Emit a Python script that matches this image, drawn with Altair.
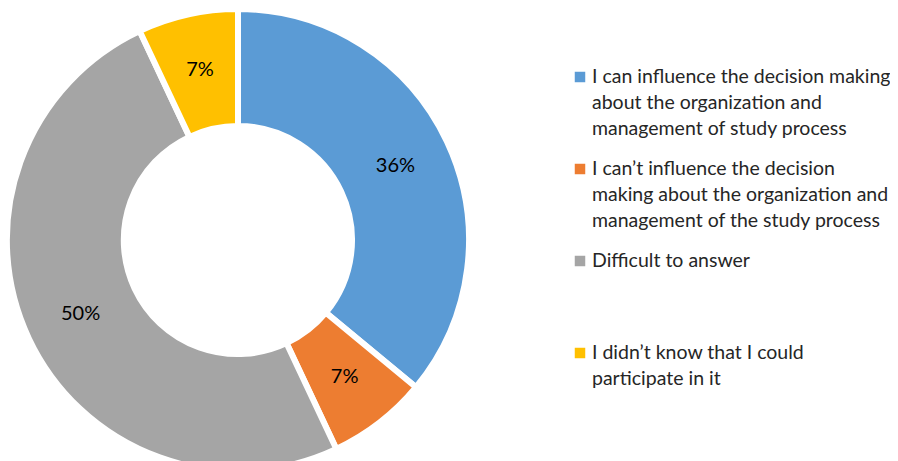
import altair as alt
import pandas as pd

categories = [
    "I can influence the decision making about the organization and management of study process",
    "I can't influence the decision making about the organization and management of the study process",
    "Difficult to answer",
    "I didn't know that I could participate in it",
]
legend_text = [
    "I can influence the decision making\nabout the organization and\nmanagement of study process",
    "I can\u2019t influence the decision\nmaking about the organization and\nmanagement of the study process",
    "Difficult to answer",
    "I didn\u2019t know that I could\nparticipate in it",
]
values = [36, 7, 50, 7]
labels = ["36%", "7%", "50%", "7%"]
colors = ["#5B9BD5", "#ED7D31", "#A5A5A5", "#FFC000"]

df = pd.DataFrame({
    "category": categories,
    "value": values,
    "label": labels,
    "legend": legend_text,
    "order": list(range(len(categories))),
})

color = alt.Color("category:N", scale=alt.Scale(domain=categories, range=colors), legend=None)
theta = alt.Theta("value:Q", stack=True)
order = alt.Order("order:Q")
cx, cy = 230, 232

base = alt.Chart(df)

arcs = base.mark_arc(innerRadius=114, outerRadius=231, stroke="white", strokeWidth=6).encode(
    theta=theta, order=order, color=color, x=alt.value(cx), y=alt.value(cy)
)

pct = base.mark_text(radius=174, fontSize=20, font="Lato", color="#000000").encode(
    theta=theta, order=order, text="label:N", x=alt.value(cx), y=alt.value(cy)
)

ypos = alt.Y("category:N", scale=alt.Scale(type="point", domain=categories, range=[69, 345], padding=0), axis=None)

legend_sq = base.mark_square(size=110, opacity=1).encode(
    y=ypos, x=alt.value(572), color=color
)

legend_tx = base.mark_text(
    align="left", baseline="alphabetic", dy=6, lineBreak="\n", lineHeight=26,
    fontSize=19.5, font="Lato", color="#262626"
).encode(y=ypos, x=alt.value(584), text="legend:N")

chart = alt.layer(arcs, pct, legend_sq, legend_tx).properties(
    width=882, height=453, padding=0, autosize="none"
).configure_view(stroke=None)

chart.save("out.html", embed_options={"renderer": "svg", "actions": False})
